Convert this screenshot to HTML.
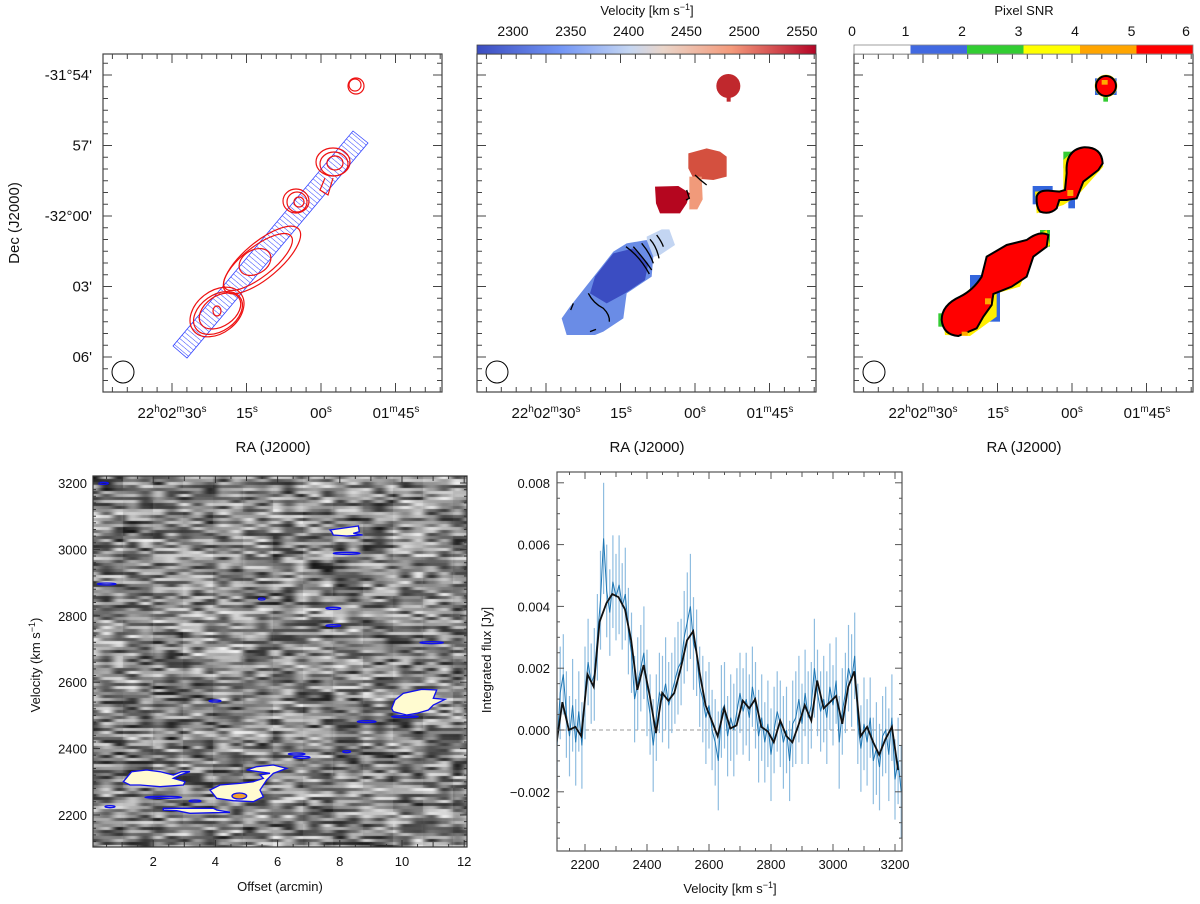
<!DOCTYPE html>
<html><head><meta charset="utf-8">
<style>
body{margin:0;background:#fff;}
#wrap{position:relative;width:1200px;height:904px;overflow:hidden;font-family:"Liberation Sans",Arial,sans-serif;}
canvas{position:absolute;}
svg{position:absolute;left:0;top:0;}
text{font-family:"Liberation Sans",Arial,sans-serif;fill:#111;}
</style></head>
<body>
<div id="wrap">
<canvas id="pv" width="374" height="371" style="left:93px;top:476px"></canvas>
<svg id="svg" width="1200" height="904" xmlns="http://www.w3.org/2000/svg">
<defs>
<linearGradient id="velgrad" x1="0" x2="1" y1="0" y2="0">
<stop offset="0" stop-color="#3b4cc0"/><stop offset="0.25" stop-color="#7396f5"/><stop offset="0.45" stop-color="#c5d6f2"/><stop offset="0.55" stop-color="#ead5c9"/><stop offset="0.75" stop-color="#f49a7b"/><stop offset="1" stop-color="#b40426"/>
</linearGradient>
<pattern id="hatch" patternUnits="userSpaceOnUse" width="4" height="4" patternTransform="rotate(-50)">
<line x1="0" y1="0" x2="0" y2="4" stroke="#3344ff" stroke-width="1"/>
</pattern>
</defs>
<g>
<polygon points="173,346 187,358 368,143 353,131" fill="url(#hatch)" stroke="#3344ff" stroke-width="0.8"/>
<g fill="none" stroke="#ee1111" stroke-width="1.2">
<circle cx="355" cy="85" r="6"/><circle cx="356" cy="86" r="8"/>
<ellipse cx="333" cy="162" rx="17" ry="14"/><ellipse cx="334" cy="164" rx="14" ry="12"/><ellipse cx="335" cy="163" rx="8" ry="7"/>
<path d="M325,178 L320,190 L328,195 L333,178"/>
<ellipse cx="296" cy="201" rx="13" ry="12"/><ellipse cx="297" cy="202" rx="10" ry="10"/><ellipse cx="299" cy="202" rx="5" ry="5"/>
<ellipse cx="258" cy="262" rx="42" ry="15" transform="rotate(-38 258 262)"/>
<ellipse cx="262" cy="260" rx="48" ry="18" transform="rotate(-40 262 260)"/>
<ellipse cx="255" cy="262" rx="17" ry="12" transform="rotate(-30 255 262)"/>
<ellipse cx="218" cy="313" rx="27" ry="18" transform="rotate(-35 218 313)"/>
<ellipse cx="220" cy="311" rx="23" ry="15" transform="rotate(-35 220 311)"/>
<ellipse cx="217" cy="312" rx="30" ry="21" transform="rotate(-38 217 312)"/>
<ellipse cx="217" cy="311" rx="4" ry="5"/>
</g>
</g>
<g transform="translate(460,0) scale(0.33333)">
<circle cx="805" cy="258" r="36" fill="#c0282d"/>
<rect x="800" y="285" width="12" height="20" fill="#c0282d"/>
<path d="M685,460 L740,445 L780,455 L800,470 L800,530 L760,540 L700,535 L685,505Z" fill="#d4503f"/>
<path d="M688,530 L725,530 L728,598 L712,628 L688,628Z" fill="#f19a7a"/>
<path d="M585,560 L655,558 L690,580 L680,610 L660,640 L600,640 L588,610Z" fill="#b5061f"/>
<path d="M560,710 L605,688 L628,688 L645,735 L600,765 L565,775Z" fill="#c3d5f2"/>
<path d="M305,955 L320,1005 L405,1005 L430,995 L490,955 L500,880 L575,830 L580,770 L560,720 L500,730 L460,755 L405,825 L330,920Z" fill="#6a8ce6"/>
<path d="M390,880 L440,910 L495,880 L555,840 L565,790 L520,745 L460,760 L405,830Z" fill="#3b4dc2"/>
<g fill="none" stroke="#000" stroke-width="4">
<path d="M498,740 Q540,770 568,822"/><path d="M520,740 Q555,780 575,810"/><path d="M545,730 Q570,760 580,790"/><path d="M570,718 Q590,740 597,775"/><path d="M590,705 Q605,725 610,740"/>
<path d="M385,880 Q400,910 430,925 Q450,945 448,965"/><path d="M340,910 L332,930"/><path d="M390,995 L408,988"/>
<path d="M705,525 Q720,540 740,555"/><path d="M680,570 L688,595 L678,600"/>
</g>
</g>
<g transform="translate(830,0) scale(0.33333)">
<g fill="#3366dd"><rect x="608" y="558" width="60" height="55"/><rect x="795" y="235" width="65" height="50"/><rect x="420" y="825" width="90" height="140"/><rect x="715" y="590" width="20" height="35"/></g>
<g fill="#33cc33"><rect x="325" y="940" width="30" height="40"/><rect x="820" y="280" width="14" height="25"/><rect x="630" y="690" width="30" height="50"/><rect x="700" y="455" width="30" height="50"/></g>
<g fill="#ffee00"><path d="M338,940 L460,830 L520,760 L650,690 L660,735 L600,780 L570,860 L500,880 L500,950 L420,1008 L345,1005Z"/><path d="M700,480 L740,445 L810,460 L820,500 L740,590 L700,615 L620,640 L615,575 L700,570Z"/><circle cx="828" cy="258" r="34"/></g>
<g fill="#ff0000" stroke="#000" stroke-width="6">
<path d="M335,960 Q335,915 390,890 Q430,870 455,830 L470,770 L530,735 L590,720 Q630,690 655,705 L650,740 L610,770 L590,830 L545,860 L490,882 L485,915 L460,950 L440,985 L385,1008 Q340,1005 335,960Z"/>
<path d="M620,590 Q625,570 655,572 L688,575 L705,570 L710,520 Q705,450 760,442 Q815,440 818,490 L805,510 L760,545 L740,595 L710,600 L688,600 L680,625 Q660,645 630,635 Q618,620 620,590Z"/>
<circle cx="828" cy="258" r="30"/>
</g>
<g fill="#ffaa00"><rect x="465" y="895" width="18" height="18"/><rect x="395" y="995" width="18" height="12"/><rect x="712" y="570" width="18" height="18"/><rect x="815" y="240" width="18" height="14"/></g>
</g>
<g id="axes"></g>
</svg>
</div>
<script>
const specVel=[2110,2120,2130,2140,2150,2160,2170,2180,2190,2200,2210,2220,2230,2240,2250,2260,2270,2280,2290,2300,2310,2320,2330,2340,2350,2360,2370,2380,2390,2400,2410,2420,2430,2440,2450,2460,2470,2480,2490,2500,2510,2520,2530,2540,2550,2560,2570,2580,2590,2600,2610,2620,2630,2640,2650,2660,2670,2680,2690,2700,2710,2720,2730,2740,2750,2760,2770,2780,2790,2800,2810,2820,2830,2840,2850,2860,2870,2880,2890,2900,2910,2920,2930,2940,2950,2960,2970,2980,2990,3000,3010,3020,3030,3040,3050,3060,3070,3080,3090,3100,3110,3120,3130,3140,3150,3160,3170,3180,3190,3200,3210,3220];
const specFlux=[-0.0005,0.0012,0.0018,0.0005,-0.0002,0.0008,-0.0004,0.0006,-0.0005,0.0012,0.0022,0.0015,0.0018,0.0030,0.0042,0.0062,0.0045,0.0038,0.0048,0.0043,0.0047,0.0040,0.0044,0.0032,0.0025,0.0010,0.0015,0.0020,0.0025,0.0012,0.0005,-0.0005,0.0004,0.0012,0.0010,0.0015,0.0008,0.0012,0.0016,0.0020,0.0022,0.0030,0.0035,0.0040,0.0028,0.0025,0.0014,0.0010,0.0004,0.0008,0.0000,-0.0004,-0.0010,0.0006,0.0008,-0.0002,0.0004,0.0000,0.0006,0.0012,0.0006,0.0010,0.0004,0.0014,0.0008,-0.0002,0.0004,-0.0004,0.0002,-0.0008,0.0000,0.0006,0.0002,-0.0004,0.0000,-0.0010,0.0002,0.0004,0.0010,0.0002,0.0012,0.0004,0.0008,0.0020,0.0012,0.0006,0.0010,0.0004,0.0014,0.0008,0.0016,-0.0004,0.0006,0.0012,0.0020,0.0016,0.0024,0.0002,-0.0006,0.0002,-0.0004,0.0004,-0.0010,-0.0006,-0.0012,-0.0002,0.0000,-0.0008,0.0004,-0.0016,-0.0010,-0.0020];
const specErr=[0.0014,0.0015,0.0013,0.0014,0.0013,0.0015,0.0014,0.0013,0.0014,0.0015,0.0014,0.0013,0.0015,0.0014,0.0016,0.0018,0.0015,0.0014,0.0015,0.0014,0.0016,0.0014,0.0015,0.0014,0.0013,0.0014,0.0015,0.0014,0.0015,0.0014,0.0013,0.0015,0.0014,0.0013,0.0014,0.0015,0.0014,0.0013,0.0014,0.0015,0.0014,0.0015,0.0016,0.0017,0.0015,0.0014,0.0013,0.0014,0.0015,0.0014,0.0013,0.0014,0.0016,0.0015,0.0014,0.0013,0.0014,0.0015,0.0014,0.0013,0.0014,0.0015,0.0014,0.0013,0.0014,0.0015,0.0014,0.0013,0.0014,0.0015,0.0014,0.0013,0.0014,0.0015,0.0014,0.0013,0.0014,0.0015,0.0014,0.0013,0.0014,0.0015,0.0014,0.0016,0.0014,0.0013,0.0014,0.0015,0.0014,0.0013,0.0014,0.0015,0.0014,0.0013,0.0014,0.0015,0.0014,0.0013,0.0014,0.0015,0.0014,0.0013,0.0014,0.0015,0.0014,0.0013,0.0014,0.0015,0.0014,0.0013,0.0014,0.0015];
const smoothVel=[2107,2127,2148,2169,2188,2208,2228,2247,2269,2288,2308,2329,2349,2369,2389,2409,2429,2449,2469,2488,2509,2529,2549,2569,2589,2609,2628,2649,2669,2689,2709,2730,2749,2769,2790,2809,2830,2850,2869,2890,2909,2930,2949,2970,2990,3010,3030,3049,3069,3089,3110,3130,3149,3169,3190,3210];
const smoothFlux=[-0.0005,0.0009,0,0.0001,-0.0002,0.0018,0.0014,0.0035,0.0041,0.0044,0.0043,0.0039,0.0029,0.0013,0.0021,0.0011,-0.0001,0.0012,0.00095,0.0012,0.002,0.0029,0.0032,0.0019,0.0008,0.0003,-0.0002,0.0007,0.00005,0.00015,0.00095,0.0007,0.001,0.0001,-0.00005,-0.0004,0.0003,-0.0002,-0.0004,0.0002,0.0008,0.0003,0.0016,0.0007,0.0009,0.0011,0.0002,0.0014,0.0019,-0.0002,0.0001,-0.0004,-0.0008,-0.0003,0.0001,-0.0013];
const specXTicks=[2200,2400,2600,2800,3000,3200];
const specYTicks=[-0.002,0,0.002,0.004,0.006,0.008];
const pvXTicks=[2,4,6,8,10,12];
const pvYTicks=[2200,2400,2600,2800,3000,3200];
const velCbarTicks=[2300,2350,2400,2450,2500,2550];
const snrCbarTicks=[0,1,2,3,4,5,6];
const snrColors=['#ffffff','#4169e1','#32cd32','#ffff00','#ffa500','#ff0000'];
const decLabels=["-31°54'","57'","-32°00'","03'","06'"];

const NS='http://www.w3.org/2000/svg';
const axes=document.getElementById('axes');
function el(tag,attrs,parent){const e=document.createElementNS(NS,tag);for(const k in attrs)e.setAttribute(k,attrs[k]);(parent||axes).appendChild(e);return e;}
function txt(x,y,s,size,anchor,parent){const t=el('text',{x:x,y:y,'font-size':size,'text-anchor':anchor||'middle'},parent);t.textContent=s;return t;}

const mapX=[103,477,854];
mapX.forEach((x0,pi)=>{
  const g=el('g',{});
  
  
  const W=339,y0=54,H=338;
  el('rect',{x:x0,y:y0,width:W,height:H,fill:'none',stroke:'#444','stroke-width':1.2},g);
  for(let k=-1;k<=30;k++){const y=75+k*70.5/6; if(y<y0+1||y>y0+H-1)continue; const maj=k%6===0;
    const L=maj?9:5; el('line',{x1:x0,y1:y,x2:x0+L,y2:y,stroke:'#444'},g); el('line',{x1:x0+W,y1:y,x2:x0+W-L,y2:y,stroke:'#444'},g);}
  for(let k=-30;k<=30;k++){const x=x0+69+k*74.5/5; if(x<x0+1||x>x0+W-1)continue; const maj=k%5===0;
    const L=maj?9:5; el('line',{x1:x,y1:y0,x2:x,y2:y0+L,stroke:'#444'},g); el('line',{x1:x,y1:y0+H,x2:x,y2:y0+H-L,stroke:'#444'},g);}
  el('circle',{cx:x0+20,cy:372,r:11,fill:'none',stroke:'#000','stroke-width':1},g);
  const ra=[[69,'22','02','30'],[144,null,null,'15'],[218,null,null,'00'],[293,null,'01','45']];
  ra.forEach(r=>{const t=el('text',{x:x0+r[0],y:418,'font-size':15,'text-anchor':'middle'},g);
    let html='';
    if(r[1])html+=r[1]+'<tspan dy="-6" font-size="10">h</tspan><tspan dy="6">'+r[2]+'</tspan><tspan dy="-6" font-size="10">m</tspan><tspan dy="6">'+r[3]+'</tspan><tspan dy="-6" font-size="10">s</tspan>';
    else if(r[2])html+=r[2]+'<tspan dy="-6" font-size="10">m</tspan><tspan dy="6">'+r[3]+'</tspan><tspan dy="-6" font-size="10">s</tspan>';
    else html+=r[3]+'<tspan dy="-6" font-size="10">s</tspan>';
    t.innerHTML=html;});
  txt(x0+170,452,'RA (J2000)',15,'middle',g);
  if(pi===0){
    decLabels.forEach((s,i)=>txt(92,80+i*70.5,s,15,'end',g));
    const t=txt(0,0,'Dec (J2000)',15,'middle',g); t.setAttribute('transform','translate(19,223) rotate(-90)');
  }
  if(pi===1){
    el('rect',{x:x0,y:45,width:W,height:9,fill:'url(#velgrad)',stroke:'#444','stroke-width':0.8},g);
    velCbarTicks.forEach(v=>{const x=x0+36+(v-2300)/50*57.8; txt(x,36,String(v),14,'middle',g);});
    const t=el('text',{x:x0+170,y:15,'font-size':13,'text-anchor':'middle'},g); t.innerHTML='Velocity [km s<tspan dy="-5" font-size="9">−1</tspan><tspan dy="5">]</tspan>';
  }
  if(pi===2){
    snrColors.forEach((c,i)=>{el('rect',{x:x0+i*W/6,y:45,width:W/6,height:9,fill:c},g);});
    el('rect',{x:x0,y:45,width:W,height:9,fill:'none',stroke:'#888','stroke-width':0.8},g);
    snrCbarTicks.forEach(v=>txt(x0-5+v*W/6+ (v===0?3:v===6?-2:0),36,String(v),14,'middle',g));
    txt(x0+170,15,'Pixel SNR',13,'middle',g);
  }
});

const pvL=93,pvT=476,pvW=374,pvH=371;
const pvx=v=>91+v*31.1, pvy=v=>815-(v-2200)*0.332;
(function(){
  const c=document.getElementById('pv').getContext('2d');
  const img=c.createImageData(pvW,pvH);
  function h(a,b){let n=a*374761393+b*668265263;n=(n^(n>>>13))*1274126177;n=n^(n>>>16);return ((n>>>0)%1000)/1000;}
  for(let r=0;r<pvH;r++){const row=Math.floor(r/3);
    for(let x=0;x<pvW;x++){const cx=x/13, i=Math.floor(cx), f=cx-i; const s=f*f*(3-2*f);
      let v=(h(i,row)*(1-s)+h(i+1,row)*s)*0.8+h(Math.floor(x/30),Math.floor(r/12))*0.2;
      let g=20+v*225; g=Math.max(0,Math.min(255,g));
      const p=(r*pvW+x)*4; img.data[p]=img.data[p+1]=img.data[p+2]=g; img.data[p+3]=255;}}
  c.putImageData(img,0,0);
})();
const pg=el('g',{});


const blobs=el('g',{transform:'translate(0,470) scale(0.33333)',fill:'#fffbd0',stroke:'#1010ee','stroke-width':4},pg);
['370,935 395,905 440,900 480,905 520,915 545,905 570,905 540,915 520,925 555,935 550,945 480,950 420,945 390,945',
 '630,960 660,945 720,940 760,935 790,925 780,915 810,910 740,900 770,890 820,885 860,895 820,910 800,930 780,960 790,980 760,995 700,992 650,985 640,972',
 '1175,715 1185,690 1210,670 1265,658 1310,660 1300,685 1335,688 1300,705 1285,720 1250,730 1220,735 1180,725',
 '490,1015 560,1015 640,1015 650,1020 690,1027 640,1028 570,1030 530,1022 490,1020',
 '990,180 1075,168 1078,185 1060,190 1088,195 1040,198 1000,195 995,185'].forEach(p=>el('polygon',{points:p},blobs));
el('ellipse',{cx:718,cy:978,rx:22,ry:9,fill:'#f0a030'},blobs);
[[310,40,15],[1040,250,40],[320,342,28],[1000,415,22],[1000,467,22],[1295,518,35],[1100,755,28],[890,852,25],[905,862,25],[490,982,55],[585,993,18],[330,1010,15],[1215,740,40],[645,693,18],[785,387,10],[1040,845,12]].forEach(e=>el('ellipse',{cx:e[0],cy:e[1],rx:e[2],ry:3,fill:'none'},blobs));
el('rect',{x:pvL,y:pvT,width:pvW,height:pvH,fill:'none',stroke:'#333','stroke-width':1.2},pg);
for(let v=0.5;v<12.1;v+=0.5){const x=pvx(v);if(x<=pvL||x>=pvL+pvW)continue;const L=Math.abs(v%2)<0.01?7:(Math.abs(v%1)<0.01?5:3);
  el('line',{x1:x,y1:pvT+pvH,x2:x,y2:pvT+pvH-L,stroke:'#333'},pg);el('line',{x1:x,y1:pvT,x2:x,y2:pvT+L,stroke:'#333'},pg);}
for(let v=2120;v<=3220;v+=20){const y=pvy(v);if(y<=pvT||y>=pvT+pvH)continue;const L=v%200===0?7:3;
  el('line',{x1:pvL,y1:y,x2:pvL+L,y2:y,stroke:'#333'},pg);el('line',{x1:pvL+pvW,y1:y,x2:pvL+pvW-L,y2:y,stroke:'#333'},pg);}
pvXTicks.forEach(v=>txt(pvx(v),866,String(v),13,'middle',pg));
pvYTicks.forEach(v=>txt(87,pvy(v)+5,String(v),13,'end',pg));
txt(280,891,'Offset (arcmin)',13,'middle',pg);
{const t=el('text',{'font-size':13,'text-anchor':'middle',transform:'translate(40,665) rotate(-90)'},pg);t.innerHTML='Velocity (km s<tspan dy="-5" font-size="9">−1</tspan><tspan dy="5">)</tspan>';}

const sL=557,sT=472,sW=345,sH=379;
const sx=v=>585+(v-2200)*0.31, sy=f=>730-f/0.002*61.8;
const sg=el('g',{});


const clip=el('clipPath',{id:'sclip'},sg); el('rect',{x:sL,y:sT,width:sW,height:sH},clip);
const plot=el('g',{'clip-path':'url(#sclip)'},sg);
el('line',{x1:sL,y1:sy(0),x2:sL+sW,y2:sy(0),stroke:'#999','stroke-dasharray':'4,3','stroke-width':1},plot);
specVel.forEach((v,i)=>{const e=el('line',{x1:sx(v),y1:sy(specFlux[i]-specErr[i]),x2:sx(v),y2:sy(specFlux[i]+specErr[i]),stroke:'#8fbde0','stroke-width':1.2},plot);
  
  });
const raw=el('polyline',{points:specVel.map((v,i)=>sx(v)+','+sy(specFlux[i])).join(' '),fill:'none',stroke:'#1f77b4','stroke-width':1},plot);


const sm=el('polyline',{points:smoothVel.map((v,i)=>sx(v)+','+sy(smoothFlux[i])).join(' '),fill:'none',stroke:'#111','stroke-width':1.8},plot);


el('rect',{x:sL,y:sT,width:sW,height:sH,fill:'none',stroke:'#555','stroke-width':1.2},sg);
for(let v=2100;v<=3220;v+=50){const x=sx(v);if(x<=sL||x>=sL+sW)continue;const L=v%200===0?7:(v%100===0?5:3);
  el('line',{x1:x,y1:sT+sH,x2:x,y2:sT+sH-L,stroke:'#555'},sg);el('line',{x1:x,y1:sT,x2:x,y2:sT+L,stroke:'#555'},sg);}
for(let k=-8;k<=18;k++){const f=k*0.0005,y=sy(f);if(y<=sT||y>=sT+sH)continue;const L=k%4===0?7:3;
  el('line',{x1:sL,y1:y,x2:sL+L,y2:y,stroke:'#555'},sg);el('line',{x1:sL+sW,y1:y,x2:sL+sW-L,y2:y,stroke:'#555'},sg);}
specXTicks.forEach(v=>txt(sx(v),869,String(v),13,'middle',sg));
specYTicks.forEach(f=>txt(550,sy(f)+5,(f<0?'−':'')+Math.abs(f).toFixed(3),13,'end',sg));
{const t=el('text',{x:730,y:893,'font-size':13,'text-anchor':'middle'},sg);t.innerHTML='Velocity [km s<tspan dy="-5" font-size="9">−1</tspan><tspan dy="5">]</tspan>';}
{const t=txt(0,0,'Integrated flux [Jy]',13,'middle',sg);t.setAttribute('transform','translate(491,660) rotate(-90)');}
</script>
</body></html>
